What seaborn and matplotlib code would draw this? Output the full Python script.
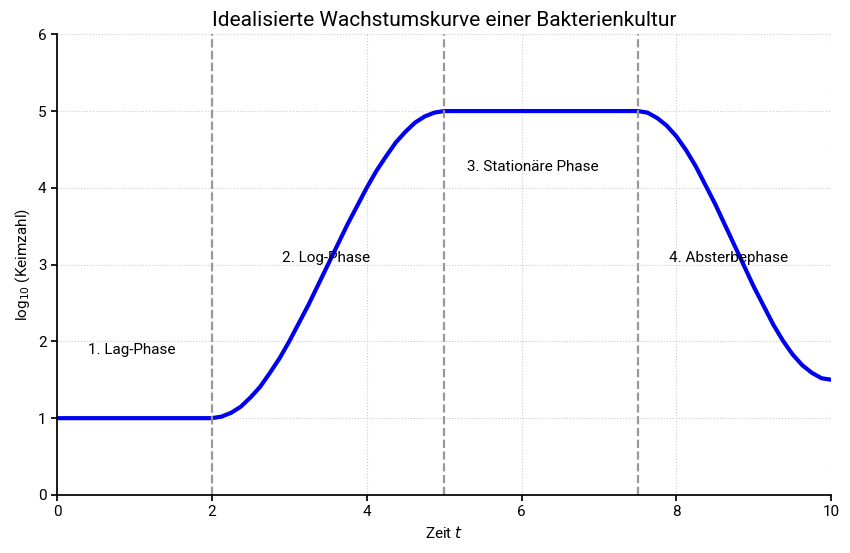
import matplotlib
matplotlib.use("Agg")
import matplotlib.pyplot as plt
import seaborn as sns
import pandas as pd

sns.set_theme(style="white")
plt.rcParams['font.family'] = ['Roboto', 'DejaVu Sans']
plt.rcParams['text.color'] = 'black'
plt.rcParams['axes.labelcolor'] = 'black'
plt.rcParams['xtick.color'] = 'black'
plt.rcParams['ytick.color'] = 'black'

# Werte
zeit = [0, 0.5, 1, 1.5, 2, 2.125, 2.25, 2.375, 2.5, 2.625, 2.75, 2.875, 3, 3.25, 3.5, 3.75,
        4, 4.125, 4.25, 4.375, 4.5, 4.625, 4.75, 4.875, 5,
        5.5, 6, 6.5, 7, 7.5, 7.625, 7.75, 7.875, 8, 8.125, 8.25, 8.5, 8.75, 9, 9.25,
        9.375, 9.5, 9.625, 9.75, 9.875, 10]
log_keimzahl = [1, 1, 1, 1, 1, 1.02, 1.07, 1.15, 1.27, 1.41, 1.59, 1.78, 2.0, 2.48, 3.0, 3.52,
                4.0, 4.22, 4.41, 4.59, 4.73, 4.85, 4.93, 4.98, 5,
                5, 5, 5, 5, 5, 4.98, 4.91, 4.81, 4.67, 4.49, 4.28, 3.79, 3.25, 2.71, 2.22,
                2.01, 1.83, 1.69, 1.59, 1.52, 1.5]
phasen_grenzen = [2, 5, 7.5]
phasen_labels = ["1. Lag-Phase", "2. Log-Phase", "3. Stationäre Phase", "4. Absterbephase"]
label_pos = [(0.4, 1.8), (2.9, 3.0), (5.3, 4.18), (7.9, 3.0)]

df = pd.DataFrame({"t": zeit, "y": log_keimzahl})

fig, ax = plt.subplots(figsize=(8.5, 5.53), dpi=100)
fig.subplots_adjust(left=0.067, right=0.978, top=0.938, bottom=0.105)

sns.lineplot(data=df, x="t", y="y", ax=ax, color="#0000ee", linewidth=3,
             solid_joinstyle="round", solid_capstyle="round")
for g in phasen_grenzen:
    ax.axvline(g, color="#999999", linestyle="--", linewidth=1.6)
for lab, (x, y) in zip(phasen_labels, label_pos):
    ax.text(x, y, lab, fontsize=11, ha="left", va="bottom")

ax.set_xlim(0, 10)
ax.set_ylim(0, 6)
ax.set_xticks([0, 2, 4, 6, 8, 10])
ax.set_yticks(range(7))
ax.grid(True, linestyle=":", color="#cccccc", linewidth=0.8)
for s in ["top", "right"]:
    ax.spines[s].set_visible(False)
for s in ["left", "bottom"]:
    ax.spines[s].set_color("black")
ax.tick_params(axis="both", labelsize=11, left=True, bottom=True, length=4, color="black")
ax.set_xlabel("Zeit $t$", fontsize=11)
ax.set_ylabel("log$_{10}$ (Keimzahl)", fontsize=11)
ax.set_title("Idealisierte Wachstumskurve einer Bakterienkultur", fontsize=15)

fig.savefig("out.png", dpi=100)
